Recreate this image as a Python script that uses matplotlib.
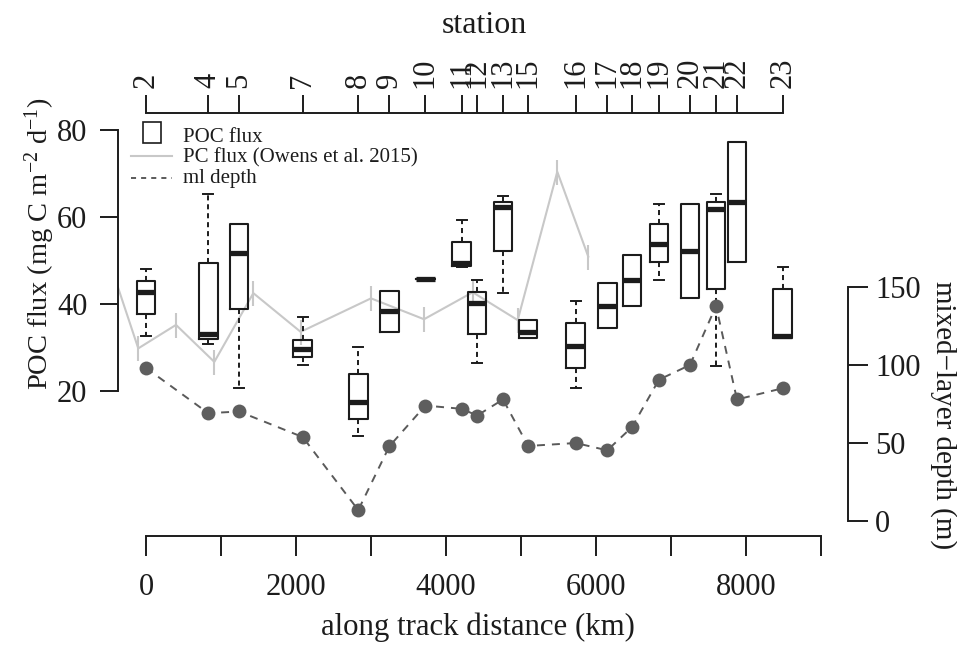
import numpy as np
import matplotlib
matplotlib.use("Agg")
import matplotlib.pyplot as plt
from matplotlib.lines import Line2D
from matplotlib.patches import Rectangle

plt.rcParams['font.family'] = ['Liberation Serif', 'DejaVu Serif']
plt.rcParams['mathtext.fontset'] = 'custom'
plt.rcParams['mathtext.rm'] = 'Liberation Serif'
plt.rcParams['mathtext.it'] = 'Liberation Serif:italic'

# stations along the cruise track
stations = [2, 4, 5, 7, 8, 9, 10, 11, 12, 13, 15, 16, 17, 18, 19, 20, 21, 22, 23]
station_km = [0, 830, 1240, 2090, 2830, 3245, 3725, 4210, 4415, 4760,
              5095, 5730, 6150, 6480, 6840, 7253, 7600, 7880, 8490]

# POC flux box statistics per station (mg C m-2 d-1)
poc_whislo = [32.6, 30.8, 20.7, 25.9, 9.7, 33.6, 45.7, 48.4, 26.4, 42.6,
              32.1, 20.6, 34.6, 39.5, 45.5, 41.3, 25.7, 49.6, 32.3]
poc_q1 = [37.7, 31.9, 38.9, 27.8, 13.5, 33.6, 45.7, 48.8, 33.1, 52.3,
          32.1, 25.4, 34.6, 39.5, 49.6, 41.3, 43.5, 49.6, 32.3]
poc_med = [42.7, 33.1, 51.7, 29.7, 17.5, 38.5, 45.7, 49.5, 40.2, 62.4,
           33.6, 30.4, 39.5, 45.5, 53.8, 52.3, 61.8, 63.4, 32.7]
poc_q3 = [45.4, 49.4, 58.4, 31.7, 23.8, 43.1, 45.7, 54.3, 42.8, 63.5,
          36.3, 35.6, 44.8, 51.3, 58.3, 62.9, 63.5, 77.3, 43.5]
poc_whishi = [48.0, 65.2, 58.4, 36.9, 30.2, 43.1, 45.7, 59.2, 45.5, 64.8,
              36.3, 40.8, 44.8, 51.3, 63.0, 62.9, 65.3, 77.3, 48.6]

# PC flux (Owens et al. 2015)
pc_km = [-450, -103, 400, 911, 1431, 2062, 3000, 3707, 4356, 4956, 5484, 5897]
pc_flux = [47.8, 29.8, 35.2, 26.7, 42.5, 33.6, 41.3, 36.5, 42.7, 36.3, 70.4, 50.9]

# mixed layer depth at each station (m)
ml_depth = [98.1, 69.1, 70.2, 53.8, 7.0, 47.9, 74.0, 71.9, 67.6, 77.9,
            48.1, 50.0, 45.3, 60.2, 90.6, 100.0, 137.8, 77.9, 85.1]

W, H = 957, 646
ink = '#1c1c1c'
fig = plt.figure(figsize=(W / 100, H / 100), dpi=100)
ax = fig.add_axes([118 / W, 1 - 536 / H, (848 - 118) / W, (536 - 113) / H])
ax.patch.set_visible(False)

ax.set_xlim(-373.3, 9360)
ax.set_ylim(-13.33, 83.91)

stats = []
for i in range(len(stations)):
    stats.append(dict(med=poc_med[i], q1=poc_q1[i], q3=poc_q3[i],
                      whislo=poc_whislo[i], whishi=poc_whishi[i], fliers=[]))

# PC flux line with tick markers
ax.plot(pc_km, pc_flux, color='#c8c8c8', lw=1.5, marker='|', ms=18, mew=1.5, zorder=1)

ax.bxp(stats, positions=station_km, widths=250, capwidths=133, showfliers=False,
       manage_ticks=False,
       boxprops=dict(color=ink, lw=1.5),
       medianprops=dict(color=ink, lw=3.8, solid_capstyle='butt'),
       whiskerprops=dict(color=ink, lw=1.4, ls=(0, (2.6, 2))),
       capprops=dict(color=ink, lw=1.4))

for side in ['top', 'right']:
    ax.spines[side].set_visible(False)
ax.spines['left'].set_bounds(20, 80)
ax.spines['bottom'].set_bounds(0, 9000)
for side in ['left', 'bottom']:
    ax.spines[side].set_linewidth(1.4)
    ax.spines[side].set_color(ink)

ax.set_yticks([20, 40, 60, 80])
ax.set_xticks(range(0, 9001, 1000))
ax.set_xticklabels([str(v) if v % 2000 == 0 else '' for v in range(0, 9001, 1000)])
ax.tick_params(axis='y', direction='out', length=13, width=1.4, color=ink,
               labelsize=22, pad=9, labelcolor=ink)
ax.tick_params(axis='x', direction='out', length=14.4, width=1.4, color=ink,
               labelsize=22, pad=12, labelcolor=ink)

# mixed layer depth on the right axis
ax_r = ax.twinx()
ax_r.set_ylim(-9.6, 261.5)
ax_r.plot(station_km, ml_depth, color='#5a5a5a', lw=1.4, ls=(0, (4.1, 3.6)),
          marker='o', ms=10, mfc='#5e5e5e', mec='#5e5e5e', mew=0, zorder=3)
for side in ['top', 'left', 'bottom']:
    ax_r.spines[side].set_visible(False)
ax_r.spines['right'].set_bounds(0, 150)
ax_r.spines['right'].set_linewidth(1.4)
ax_r.spines['right'].set_color(ink)
ax_r.set_yticks([0, 50, 100, 150])
ax_r.tick_params(axis='y', direction='out', length=14.4, width=1.4, color=ink,
                 labelsize=22, pad=5, labelcolor=ink)

# station axis on top
ax_t = ax.twiny()
ax_t.set_xlim(ax.get_xlim())
for side in ['bottom', 'left', 'right']:
    ax_t.spines[side].set_visible(False)
ax_t.spines['top'].set_bounds(station_km[0], station_km[-1])
ax_t.spines['top'].set_linewidth(1.4)
ax_t.spines['top'].set_color(ink)
ax_t.set_xticks(station_km)
ax_t.set_xticklabels([str(s) for s in stations], rotation=90)
ax_t.tick_params(axis='x', direction='out', length=13, width=1.4, color=ink,
                 labelsize=22, pad=5, labelcolor=ink)

# axis titles
fig.text(484 / W, 1 - 32.7 / H, 'station', ha='center', va='baseline', fontsize=23, color=ink)
fig.text(478 / W, 1 - 635 / H, 'along track distance (km)', ha='center', va='baseline',
         fontsize=22.2, color=ink)
fig.text(40 / W, 1 - 244 / H, 'POC flux (mg C m$^{-2}$ d$^{-1}$)', rotation=90,
         ha='center', va='center', fontsize=20.5, color=ink)
fig.text(943 / W, 1 - 415 / H, 'mixed\u2212layer depth (m)', rotation=270,
         ha='center', va='center', fontsize=21, color=ink)

# legend
fig.add_artist(Rectangle((143.3 / W, 1 - 143.3 / H), 17.4 / W, 21.6 / H,
                         transform=fig.transFigure, fill=False, ec=ink, lw=1.2))
fig.add_artist(Line2D([131 / W, 172 / W], [1 - 155.7 / H] * 2, transform=fig.transFigure,
                      color='#c8c8c8', lw=1.5))
fig.add_artist(Line2D([131 / W, 172 / W], [1 - 178.3 / H] * 2, transform=fig.transFigure,
                      color='#5a5a5a', lw=1.4, ls=(0, (2.6, 2.6))))
legend_labels = ['POC flux', 'PC flux (Owens et al. 2015)', 'ml depth']
legend_base = [141.7, 162.3, 183.3]
for lab, yb in zip(legend_labels, legend_base):
    fig.text(183 / W, 1 - yb / H, lab, ha='left', va='baseline', fontsize=15, color=ink)

fig.savefig('out.png', dpi=100)
